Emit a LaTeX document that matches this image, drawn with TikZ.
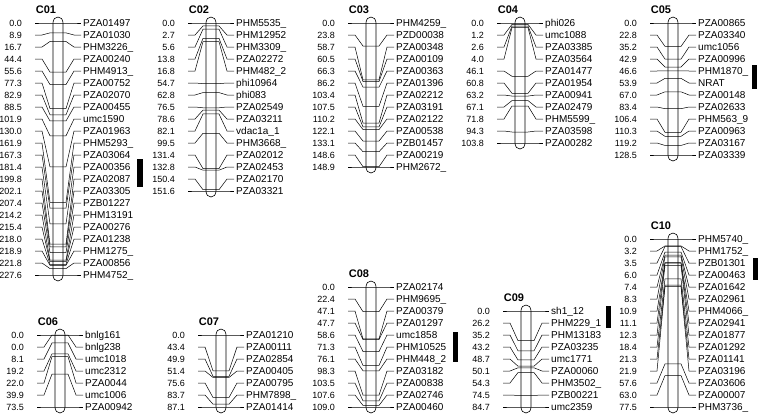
\documentclass[tikz,border=0pt]{standalone}
\usepackage{fontspec}
\setmainfont{Liberation Sans}
\usetikzlibrary{positioning}

\tikzset{
  chrtitle/.style={font=\fontsize{11}{12}\selectfont\bfseries},
  posnum/.style={font=\fontsize{9}{10}\selectfont, anchor=east, inner sep=0pt, text height=6.5pt, text depth=0pt},
  mkname/.style={font=\fontsize{10}{12}\selectfont, anchor=west, inner sep=0pt, text height=7pt, text depth=0pt},
  chrbar/.style={draw, fill=white, line width=0.6pt},
  link/.style={line width=0.5pt},
  qtl/.style={fill=black},
}

% #1 id, #2 title, #3 bar left x, #4 first row y, #5 last cM, #6 rows, #7 loci
\newcommand{\chrom}[7]{%
  \pgfmathsetmacro{\ylast}{#4+12*(#6-1)}
  \node[chrtitle] (title-#1) at (#3-7,#4-13) {#2};
  \draw[chrbar] (#3,#4) -- (#3,\ylast) .. controls (#3,\ylast+8) and (#3+10,\ylast+8) .. (#3+10,\ylast)
    -- (#3+10,#4) .. controls (#3+10,#4-8) and (#3,#4-8) .. cycle;
  \foreach \cm/\mk [count=\i from 0] in {#7} {
    \pgfmathsetmacro{\ylab}{#4+12*\i}
    \pgfmathsetmacro{\yloc}{#4+\cm/#5*12*(#6-1)}
    \node[posnum] (pos-#1-\i) at (#3-31,\ylab) {\cm};
    \node[mkname] (mk-#1-\i) at (#3+30,\ylab) {\mk};
    \coordinate (in-#1-\i) at (#3,\yloc);
    \coordinate (out-#1-\i) at (#3+10,\yloc);
    \draw[link] ([xshift=13pt]pos-#1-\i.east) -- ++(7,0) -- ([xshift=-3pt]in-#1-\i) -- (in-#1-\i)
      -- (out-#1-\i) -- ([xshift=3pt]out-#1-\i) -- ([xshift=-9pt]mk-#1-\i.west) -- ([xshift=-2pt]mk-#1-\i.west);
  }
}

\begin{document}
\begin{tikzpicture}[x=1pt, y=-1pt]
  \useasboundingbox (0,0) rectangle (758,418);

  % top row
  \chrom{1}{C01}{53}{23}{227.6}{22}{0.0/PZA01497, 8.9/PZA01030, 16.7/PHM3226\_, 44.4/PZA00240,
    55.6/PHM4913\_, 77.3/PZA00752, 82.9/PZA02070, 88.5/PZA00455, 101.9/umc1590, 130.0/PZA01963,
    161.9/PHM5293\_, 167.3/PZA03064, 181.4/PZA00356, 199.8/PZA02087, 202.1/PZA03305, 207.4/PZB01227,
    214.2/PHM13191, 215.4/PZA00276, 218.0/PZA01238, 218.9/PHM1275\_, 221.8/PZA00856, 227.6/PHM4752\_}
  \chrom{2}{C02}{206}{23}{151.6}{15}{0.0/PHM5535\_, 2.7/PHM12952, 5.6/PHM3309\_, 13.8/PZA02272,
    16.8/PHM482\_2, 54.7/phi10964, 62.8/phi083, 76.5/PZA02549, 78.6/PZA03211, 82.1/vdac1a\_1,
    99.5/PHM3668\_, 131.4/PZA02012, 132.8/PZA02453, 150.4/PZA02170, 151.6/PZA03321}
  \chrom{3}{C03}{366}{23}{148.9}{13}{0.0/PHM4259\_, 23.8/PZD00038, 58.7/PZA00348, 60.5/PZA00109,
    66.3/PZA00363, 86.2/PZA01396, 103.4/PZA02212, 107.5/PZA03191, 110.2/PZA02122, 122.1/PZA00538,
    133.1/PZB01457, 148.6/PZA00219, 148.9/PHM2672\_}
  \chrom{4}{C04}{515}{23}{103.8}{11}{0.0/phi026, 1.2/umc1088, 2.6/PZA03385, 4.0/PZA03564,
    46.1/PZA01477, 60.8/PZA01954, 63.2/PZA00941, 67.1/PZA02479, 71.8/PHM5599\_, 94.3/PZA03598,
    103.8/PZA00282}
  \chrom{5}{C05}{668}{23}{128.5}{12}{0.0/PZA00865, 22.8/PZA03340, 35.2/umc1056, 42.9/PZA00996,
    46.6/PHM1870\_, 53.9/NRAT, 67.0/PZA00148, 83.4/PZA02633, 106.4/PHM563\_9, 110.3/PZA00963,
    119.2/PZA03167, 128.5/PZA03339}

  % bottom row
  \chrom{6}{C06}{55}{335}{73.5}{7}{0.0/bnlg161, 0.0/bnlg238, 8.1/umc1018, 19.2/umc2312,
    22.0/PZA0044, 39.9/umc1006, 73.5/PZA00942}
  \chrom{7}{C07}{216}{335}{87.1}{7}{0.0/PZA01210, 43.4/PZA00111, 49.9/PZA02854, 51.4/PZA00405,
    75.6/PZA00795, 83.7/PHM7898\_, 87.1/PZA01414}
  \chrom{8}{C08}{366}{287}{109.0}{11}{0.0/PZA02174, 22.4/PHM9695\_, 47.1/PZA00379, 47.7/PZA01297,
    58.6/umc1858, 71.3/PHM10525, 76.1/PHM448\_2, 98.3/PZA03182, 103.5/PZA00838, 107.6/PZA02746,
    109.0/PZA00460}
  \chrom{9}{C09}{521}{311}{84.7}{9}{0.0/sh1\_12, 26.2/PHM229\_1, 35.2/PHM13183, 43.2/PZA03235,
    48.7/umc1771, 50.1/PZA00060, 54.3/PHM3502\_, 74.5/PZB00221, 84.7/umc2359}
  \chrom{10}{C10}{668}{239}{77.5}{15}{0.0/PHM5740\_, 3.2/PHM1752\_, 3.5/PZB01301, 6.0/PZA00463,
    7.4/PZA01642, 8.3/PZA02961, 10.9/PHM4066\_, 11.1/PZA02941, 12.3/PZA01877, 18.4/PZA01292,
    21.3/PZA01141, 21.9/PZA03196, 57.6/PZA03606, 63.0/PZA00007, 77.5/PHM3736\_}

  % QTL bars
  \fill[qtl] (137,159) rectangle (143,187);
  \fill[qtl] (752,65) rectangle (757,89);
  \fill[qtl] (453,332) rectangle (458,362);
  \fill[qtl] (606,306) rectangle (611,328);
  \fill[qtl] (753,258) rectangle (758,280);
\end{tikzpicture}
\end{document}
